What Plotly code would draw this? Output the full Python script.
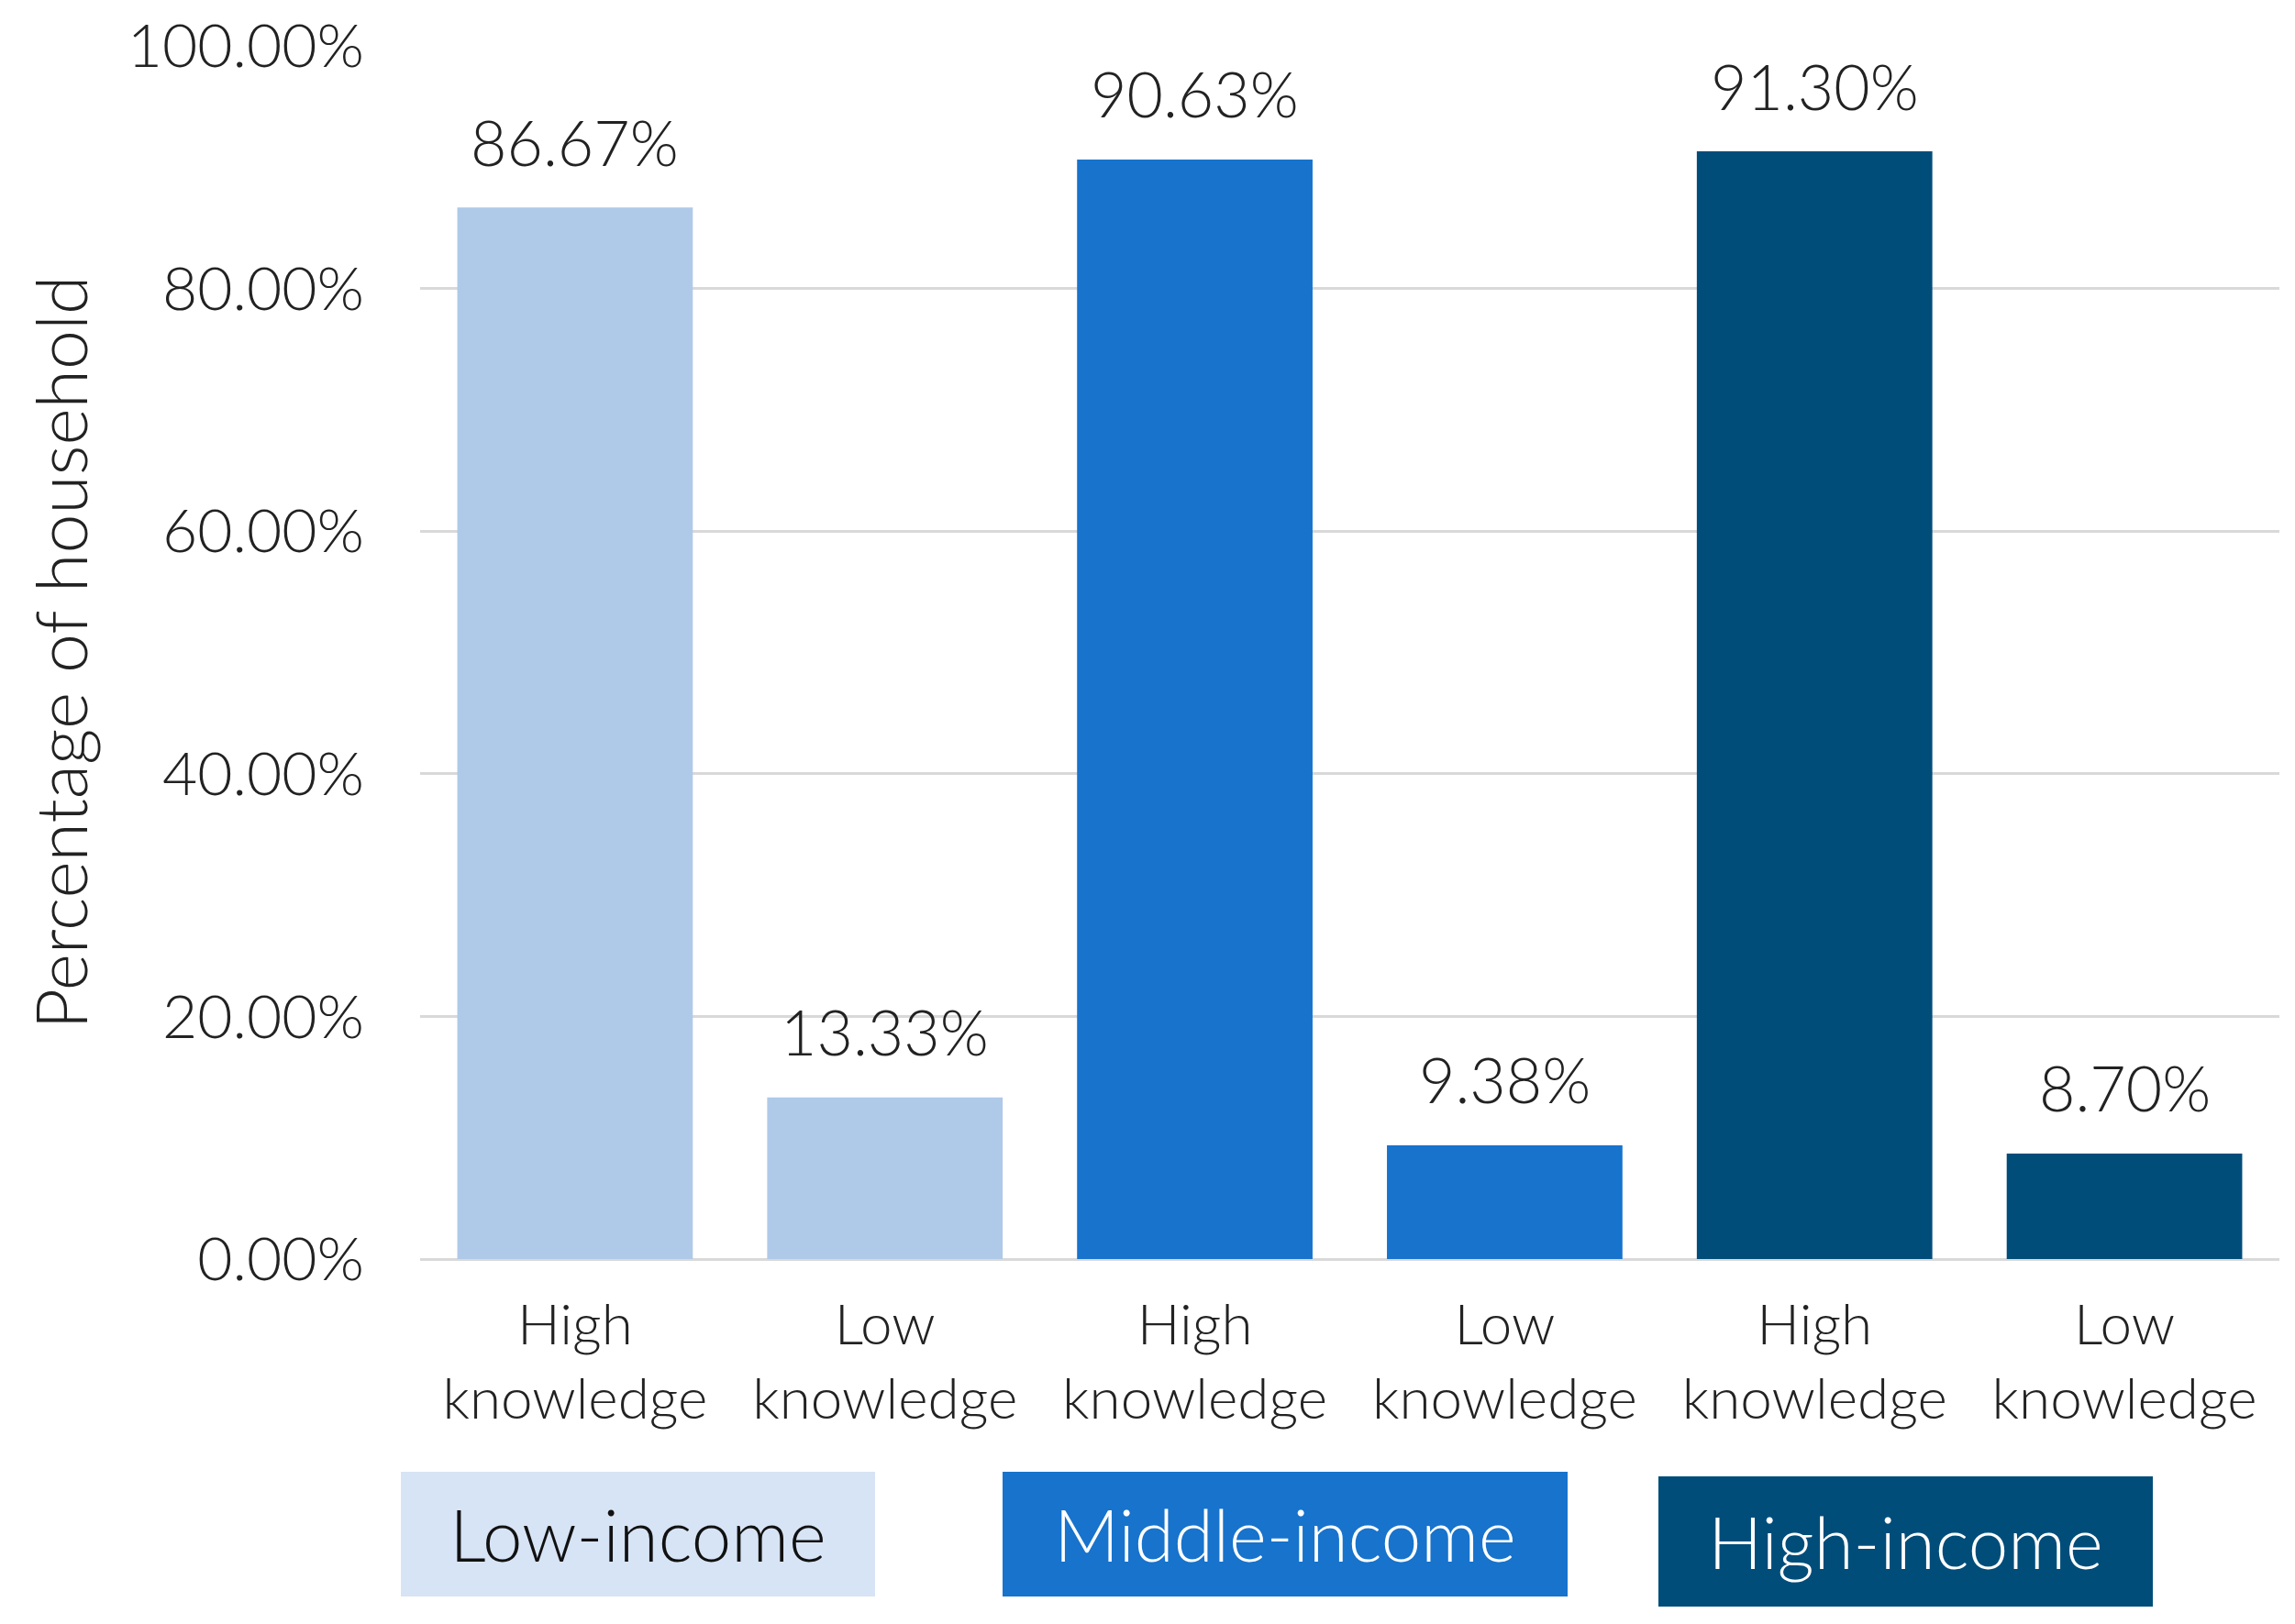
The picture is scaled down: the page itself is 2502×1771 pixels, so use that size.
import plotly.graph_objects as go

# ---- data ----
groups = ["Low-income", "Middle-income", "High-income"]
knowledge = ["High knowledge", "Low knowledge"]
values = {
    "Low-income": [86.67, 13.33],
    "Middle-income": [90.63, 9.38],
    "High-income": [91.30, 8.70],
}
y_ticks = [0, 20, 40, 60, 80, 100]
y_title = "Percentage of household"

# ---- styles ----
bar_colors = {"Low-income": "#AFC9E9", "Middle-income": "#1773CC", "High-income": "#004D7A"}
box_colors = {"Low-income": "#D7E4F5", "Middle-income": "#1773CC", "High-income": "#004D7A"}
box_text = {"Low-income": "#111111", "Middle-income": "#FFFFFF", "High-income": "#FFFFFF"}
FONT = "Lato"
TXT = "#222222"

W, H = 2502, 1771
OFF = 11  # page offset compensation
L, R, T, B = 461 - OFF, 14 + OFF, 53 - OFF, 395 + OFF
pw, ph = W - L - R, H - T - B

xs, ys, cols, ticktext = [], [], [], []
for g in groups:
    for k, v in zip(knowledge, values[g]):
        xs.append(g + " | " + k)
        ys.append(v)
        cols.append(bar_colors[g])
        ticktext.append(k.replace(" ", "<br>"))

fig = go.Figure()
fig.add_trace(go.Bar(x=xs, y=ys, marker=dict(color=cols, line=dict(width=0)),
                     hoverinfo="x+y"))

annotations = []
for x, y in zip(xs, ys):
    annotations.append(dict(x=x, y=y, xref="x", yref="y", text=f"{y:.2f}%",
                            showarrow=False, yanchor="middle", yshift=72,
                            font=dict(family=FONT, size=68, color=TXT, weight=300)))

# y-axis title
annotations.append(dict(x=(72 - OFF - 5 - L) / pw, y=0.5, xref="paper", yref="paper",
                        text=y_title, textangle=-90, showarrow=False,
                        xanchor="center", yanchor="middle",
                        font=dict(family=FONT, size=77, color=TXT, weight=300)))

# income-group boxes (legend)
box_geom = {
    "Low-income": (440, 957, 1608, 1744),
    "Middle-income": (1096, 1712, 1608, 1744),
    "High-income": (1811, 2350, 1613, 1755),
}
for g in groups:
    x0, x1, y0, y1 = [v - OFF for v in box_geom[g]]
    annotations.append(dict(x=((x0 + x1) / 2 - L) / pw, y=(H - B - (y0 + y1) / 2) / ph,
                            xref="paper", yref="paper", text=g, showarrow=False,
                            xanchor="center", yanchor="middle",
                            width=x1 - x0, height=y1 - y0, borderpad=0,
                            bgcolor=box_colors[g], borderwidth=0,
                            font=dict(family=FONT, size=78, color=box_text[g], weight=300)))

fig.update_layout(
    width=W, height=H,
    margin=dict(l=L, r=R, t=T, b=B, autoexpand=False),
    paper_bgcolor="white", plot_bgcolor="white",
    bargap=0.24, showlegend=False,
    annotations=annotations,
    font=dict(family=FONT, color=TXT),
)
fig.update_xaxes(tickvals=xs, ticktext=ticktext, showgrid=False, showline=False,
                 ticks="", ticklabelstandoff=30, automargin=False,
                 tickfont=dict(family=FONT, size=62, color=TXT, weight=300))
fig.update_yaxes(range=[0, 100], tickvals=y_ticks,
                 ticktext=[f"{t:.2f}%" for t in y_ticks],
                 showgrid=True, gridcolor="#D9D9D9", gridwidth=3,
                 zeroline=True, zerolinecolor="#D9D9D9", zerolinewidth=3,
                 showline=False, ticks="", ticklabelstandoff=60, automargin=False,
                 tickfont=dict(family=FONT, size=66, color=TXT, weight=300))

fig.write_html("out.html")
